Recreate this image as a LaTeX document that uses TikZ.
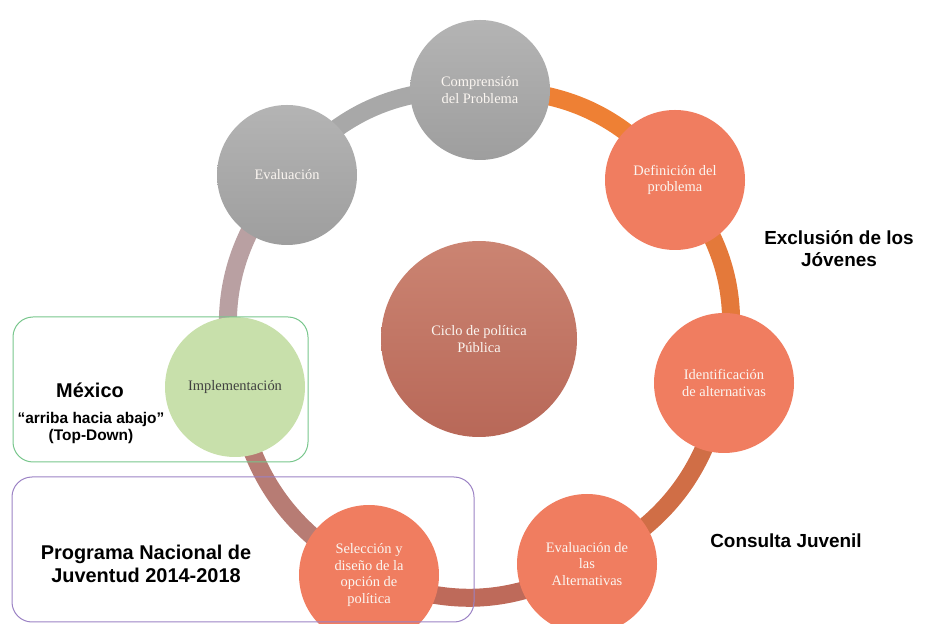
\documentclass[tikz,border=0pt]{standalone}
\usepackage{fontspec}
\setmainfont{Liberation Serif}
\newfontfamily\labelfont{Liberation Sans}
\usepackage{tikz}
\usetikzlibrary{backgrounds}
\newcommand{\etiq}[1]{{\labelfont\bfseries #1}}
\definecolor{grisA}{HTML}{B4B4B4}
\definecolor{grisB}{HTML}{9E9E9E}
\definecolor{salmon}{HTML}{F07D60}
\definecolor{verdeC}{HTML}{C8E0AB}
\definecolor{cicloA}{HTML}{CB8472}
\definecolor{cicloB}{HTML}{B86858}
\definecolor{textoC}{HTML}{FBF6F1}

\begin{document}
\begin{tikzpicture}
      \tikzstyle{every node}=[font=\fontsize{14.5}{16.5}\selectfont]
      \tikzstyle{etapa}=[circle, minimum size=140bp, inner sep=0pt, align=center, text=textoC]
      \tikzstyle{anillo}=[line width=18bp, bend left=26]
      \tikzstyle{caja}=[rounded corners=20bp, line width=1bp]
      \useasboundingbox (0bp,0bp) rectangle (925bp,624bp);

%%
  \node (v_compr) at (480bp,534bp) [etapa, top color=grisA, bottom color=grisB] {Comprensión\\del Problema};
  \node (v_defin) at (675bp,444bp) [etapa, fill=salmon] {Definición del\\problema};
  \node (v_ident) at (724bp,241bp) [etapa, fill=salmon] {Identificación\\de alternativas};
  \node (v_evalt) at (587bp,60bp) [etapa, fill=salmon] {Evaluación de\\las\\Alternativas};
  \node (v_selec) at (369bp,49bp) [etapa, fill=salmon] {Selección y\\diseño de la\\opción de\\política};
  \node (v_impl) at (235bp,237bp) [etapa, fill=verdeC, text=black!75] {Implementación};
  \node (v_evalu) at (287bp,449bp) [etapa, top color=grisA, bottom color=grisB] {Evaluación};
  \node (v_ciclo) at (479bp,285bp) [etapa, minimum size=196bp, top color=cicloA, bottom color=cicloB] {Ciclo de política\\Pública};
%%
  \begin{scope}[on background layer]
  \draw [anillo, color={rgb,255:red,238;green,128;blue,52}] (v_compr.center) to (v_defin.center);
  \draw [anillo, color={rgb,255:red,228;green,121;blue,58}] (v_defin.center) to (v_ident.center);
  \draw [anillo, color={rgb,255:red,208;green,110;blue,70}] (v_ident.center) to (v_evalt.center);
  \draw [anillo, color={rgb,255:red,190;green,106;blue,90}] (v_evalt.center) to (v_selec.center);
  \draw [anillo, color={rgb,255:red,183;green,124;blue,116}] (v_selec.center) to (v_impl.center);
  \draw [anillo, color={rgb,255:red,185;green,160;blue,162}] (v_impl.center) to (v_evalu.center);
  \draw [anillo, color={rgb,255:red,168;green,168;blue,168}] (v_evalu.center) to (v_compr.center);
  \end{scope}
%%
  \node (l_excl) at (839bp,375bp) [align=center, font=\fontsize{19}{22}\selectfont] {\etiq{Exclusión de los}\\\etiq{Jóvenes}};
  \node (l_cons) at (786bp,83bp) [font=\fontsize{19}{22}\selectfont] {\etiq{Consulta Juvenil}};
  \node (l_mex) at (90bp,234bp) [font=\fontsize{20}{22}\selectfont] {\etiq{México}};
  \node (l_topd) at (91bp,196bp) [align=center, font=\fontsize{15.5}{18}\selectfont] {\etiq{“arriba hacia abajo”}\\\etiq{(Top-Down)}};
  \node (l_prog) at (146bp,60bp) [align=center, font=\fontsize{20}{22.5}\selectfont] {\etiq{Programa Nacional de}\\\etiq{Juventud 2014-2018}};
%
  \draw [caja, draw={rgb,255:red,120;green,198;blue,140}] (13bp,162bp) rectangle (308bp,307bp);
  \draw [caja, draw={rgb,255:red,155;green,130;blue,196}] (12bp,2bp) rectangle (474bp,147bp);
\end{tikzpicture}
\end{document}
